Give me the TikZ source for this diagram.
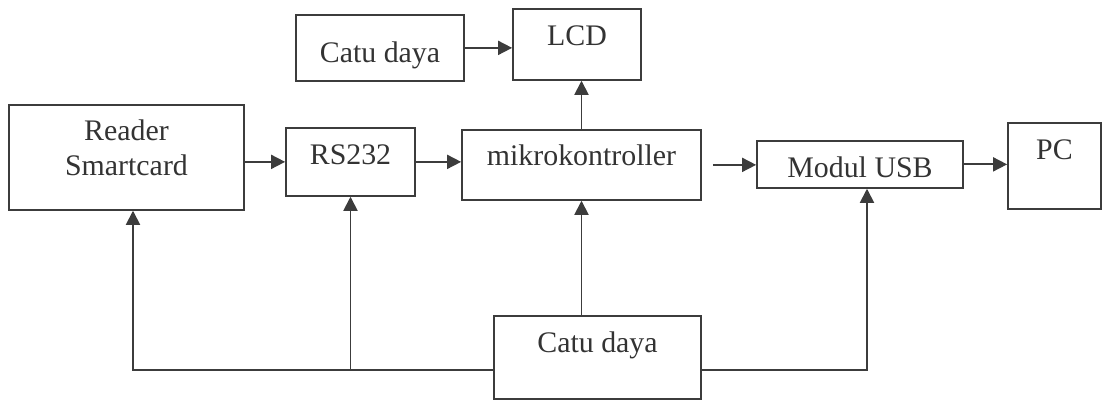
\documentclass[tikz,border=0pt]{standalone}
\usepackage{fontspec}
\setmainfont{Liberation Serif}
\usetikzlibrary{arrows.meta}
\definecolor{garis}{HTML}{3c3c3c}
\definecolor{tinta}{HTML}{333333}

\tikzset{
  blok/.style={draw=garis,line width=1pt,inner sep=0pt,anchor=north,align=center,
    text=tinta,font=\fontsize{17}{20}\selectfont,text height=0.74cm},
  panah/.style={draw=garis,line width=1pt,-{Triangle[length=8pt,width=8pt]}}
}

\begin{document}
\begin{tikzpicture}[x=0.02cm,y=-0.02cm]
  \useasboundingbox (0,0) rectangle (1103,402);
  % blok
  \node[blok,minimum width=3.36cm,text height=0.96cm,text depth=0.36cm] (catuA) at (380,14) {Catu daya};
  \node[blok,minimum width=2.56cm,text depth=0.68cm] (lcd) at (577,8) {LCD};
  \node[blok,minimum width=4.7cm,text height=1.42cm,text depth=0.68cm] (reader) at (126.5,104) {Reader\\Smartcard};
  \node[blok,minimum width=2.58cm,text depth=0.62cm] (rs232) at (350.5,127) {RS232};
  \node[blok,minimum width=4.78cm,text height=0.72cm,text depth=0.68cm] (mikro) at (581.5,129) {mikrokontroller};
  \node[blok,minimum width=4.12cm,text depth=0.2cm] (usb) at (860,140) {Modul USB};
  \node[blok,minimum width=1.86cm,text depth=0.98cm] (pc) at (1054.5,122) {PC};
  \node[blok,minimum width=4.14cm,text depth=0.92cm] (catuB) at (597.5,315) {Catu daya};
  \coordinate (jalur) at (0,370);
  % aliran data
  \draw[panah] (catuA.east) -- (catuA.east -| lcd.west);
  \draw[panah] (mikro.north) -- (mikro.north |- lcd.south);
  \draw[panah] (rs232.west -| reader.east) -- (rs232.west);
  \draw[panah] (rs232.east) -- (rs232.east -| mikro.west);
  \draw[panah] ([xshift=0.22cm]mikro.east) -- (mikro.east -| usb.west);
  \draw[panah] (usb.east) -- (usb.east -| pc.west);
  % catu daya
  \draw[panah] (mikro.south |- catuB.north) -- (mikro.south);
  \draw[panah] (catuB.west |- jalur) -| ([xshift=0.13cm]reader.south);
  \draw[panah] (rs232.south |- jalur) -- (rs232.south);
  \draw[panah] (catuB.east |- jalur) -| ([xshift=0.14cm]usb.south);
\end{tikzpicture}
\end{document}
